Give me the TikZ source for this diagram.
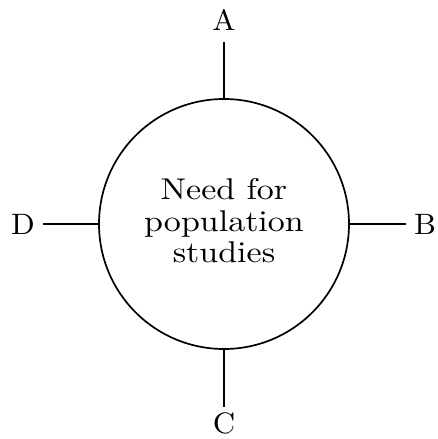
\documentclass[tikz,border=0pt]{standalone}
\usepackage{graphicx}
\newcommand{\widetext}[1]{\scalebox{3.4}[3.0]{#1}}
\newcommand{\tagtext}[1]{\scalebox{3.1}[2.95]{#1}}
\begin{document}
\begin{tikzpicture}[x=1pt,y=1pt,
  hubstyle/.style={circle, draw, line width=1.7pt, minimum size=250pt, inner sep=0pt, align=center},
  spoke/.style={line width=1.5pt},
  tag/.style={inner sep=0pt}]
  \useasboundingbox (0,0) rectangle (437,439);
  % central circle with its caption
  \node[hubstyle] (hub) at (224,215)
    {\widetext{\begin{tabular}{@{}c@{}}Need for\\[-1.4pt]population\\[-1.4pt]studies\end{tabular}}};
  % free ends of the four spokes
  \coordinate (ea) at (224,397);
  \coordinate (eb) at (406,215);
  \coordinate (ec) at (224,32);
  \coordinate (ed) at (43,215);
  \draw[spoke] (hub.north) -- (ea);
  \draw[spoke] (hub.east) -- (eb);
  \draw[spoke] (hub.south) -- (ec);
  \draw[spoke] (hub.west) -- (ed);
  % spoke labels
  \node[tag] (la) at (224,419) {\tagtext{A}};
  \node[tag] (lb) at (425,215) {\tagtext{B}};
  \node[tag] (lc) at (224,16) {\tagtext{C}};
  \node[tag] (ld) at (23,215) {\tagtext{D}};
\end{tikzpicture}
\end{document}
